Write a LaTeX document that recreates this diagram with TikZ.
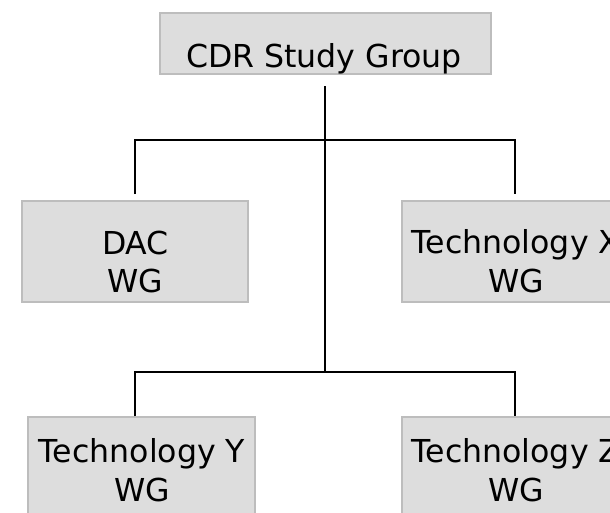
\documentclass[tikz,border=0pt]{standalone}
\usepackage{fontspec}
\setmainfont{DejaVu Sans}
\definecolor{boxfill}{HTML}{DDDDDD}
\definecolor{boxline}{HTML}{BDBDBD}
\begin{document}
\begin{tikzpicture}[x=1pt,y=-1pt,
  orgbox/.style={draw=boxline,line width=1.2pt,fill=boxfill,rectangle,inner sep=0pt},
  orgtext/.style={inner sep=0pt,align=center,font=\fontsize{31.6}{38.7}\selectfont},
  link/.style={draw=black,line width=1.5pt}]
\useasboundingbox (0,0) rectangle (610,512);
% boxes
\node[orgbox,minimum width=331pt,minimum height=61pt] (top) at (325.5,43.5) {};
\node[orgbox,minimum width=226pt,minimum height=101pt] (dac) at (135,251.5) {};
\node[orgbox,minimum width=227pt,minimum height=101pt] (techx) at (515.5,251.5) {};
\node[orgbox,minimum width=227pt,minimum height=101pt] (techy) at (141.5,467.5) {};
\node[orgbox,minimum width=227pt,minimum height=101pt] (techz) at (515.5,467.5) {};
% texts
\node[orgtext,anchor=base] (topt) at (324,67) {CDR Study Group};
\node[orgtext] (dact) at (135.5,261.9) {DAC\\WG};
\node[orgtext] (techxt) at (516,261.4) {Technology X\\WG};
\node[orgtext] (techyt) at (142,470.1) {Technology Y\\WG};
\node[orgtext] (techzt) at (516,470.1) {Technology Z\\WG};
% connector points
\coordinate (trunktop) at (325,86);
\coordinate (ja) at (325,140);
\coordinate (jb) at (325,372);
\coordinate (al) at (135,140);
\coordinate (ar) at (515,140);
\coordinate (bl) at (135,372);
\coordinate (br) at (515,372);
\coordinate (dacin) at (135,194);
\coordinate (techxin) at (515,194);
% connectors
\draw[link] (trunktop) -- (ja) -- (jb);
\draw[link] (dacin) -- (al) -- (ar) -- (techxin);
\draw[link] (techy.north -| bl) -- (bl) -- (br) -- (techz.north -| br);
\end{tikzpicture}
\end{document}
